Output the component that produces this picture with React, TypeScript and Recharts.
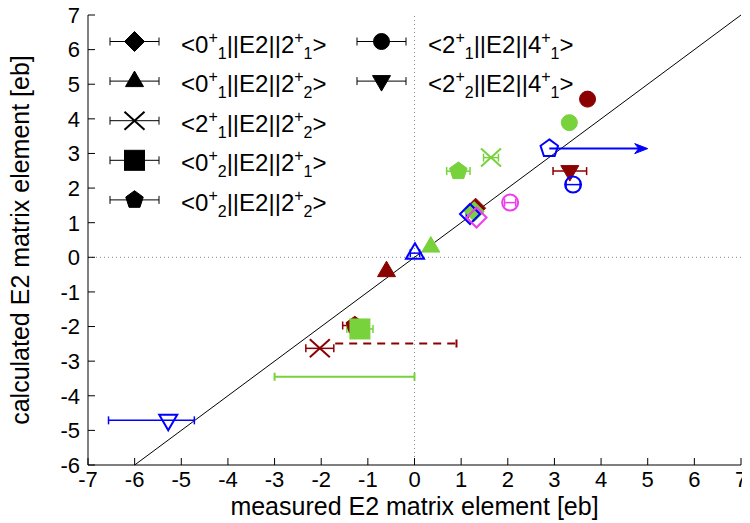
import React from 'react'
import {
  ScatterChart, Scatter, XAxis, YAxis, ErrorBar, ReferenceLine, Legend,
} from 'recharts'

type Shape = 'diamond' | 'triangle' | 'cross' | 'square' | 'pentagon' | 'circle' | 'triangleDown'

interface Point {
  shape: Shape
  x: number
  y: number
  ex?: number | [number, number]
}

const FONT = '"Liberation Sans", Arial, Helvetica, sans-serif'

const X_TICKS = [-7, -6, -5, -4, -3, -2, -1, 0, 1, 2, 3, 4, 5, 6, 7]
const Y_TICKS = [-6, -5, -4, -3, -2, -1, 0, 1, 2, 3, 4, 5, 6, 7]

const DARK_RED = '#8b0000'
const GREEN = '#77d23c'
const BLUE = '#0000ff'
const MAGENTA = '#ee3cee'

// measured (x) vs calculated (y), one list per calculation
const darkRedPoints: Point[] = [
  { shape: 'pentagon', x: -1.28, y: -1.97, ex: 0.26 },
  { shape: 'diamond', x: 1.31, y: 1.42 },
  { shape: 'triangle', x: -0.6, y: -0.4 },
  { shape: 'cross', x: -2.03, y: -2.63, ex: 0.3 },
  { shape: 'circle', x: 3.71, y: 4.57 },
  { shape: 'triangleDown', x: 3.33, y: 2.49, ex: 0.36 },
]

const greenPoints: Point[] = [
  { shape: 'diamond', x: 1.28, y: 1.32 },
  { shape: 'triangle', x: 0.35, y: 0.31 },
  { shape: 'cross', x: 1.64, y: 2.88, ex: 0.16 },
  { shape: 'square', x: -1.17, y: -2.07, ex: 0.28 },
  { shape: 'pentagon', x: 0.94, y: 2.49, ex: 0.25 },
  { shape: 'circle', x: 3.32, y: 3.89 },
]

const bluePoints: Point[] = [
  { shape: 'diamond', x: 1.19, y: 1.25, ex: 0.08 },
  { shape: 'triangle', x: 0.01, y: 0.12, ex: 0.1 },
  { shape: 'pentagon', x: 2.89, y: 3.14 },
  { shape: 'circle', x: 3.4, y: 2.1, ex: 0.15 },
  { shape: 'triangleDown', x: -5.28, y: -4.71, ex: [1.28, 0.56] },
]

const magentaPoints: Point[] = [
  { shape: 'diamond', x: 1.33, y: 1.15 },
  { shape: 'circle', x: 2.05, y: 1.58, ex: 0.12 },
]

// lower limit on the blue pentagon, and two bare ranges
const blueLimit = [{ x: 2.89, y: 3.14 }, { x: 5.0, y: 3.14 }]
const darkRedRange = [{ x: -1.7, y: -2.49 }, { x: 0.9, y: -2.49 }]
const greenRange = [{ x: -3.0, y: -3.45 }, { x: 0.0, y: -3.45 }]
const diagonal = [{ x: -6, y: -6 }, { x: 7, y: 7 }]

const legendItems: { shape: Shape; from: [string, string]; to: [string, string] }[] = [
  { shape: 'diamond', from: ['0', '1'], to: ['2', '1'] },
  { shape: 'triangle', from: ['0', '1'], to: ['2', '2'] },
  { shape: 'cross', from: ['2', '1'], to: ['2', '2'] },
  { shape: 'square', from: ['0', '2'], to: ['2', '1'] },
  { shape: 'pentagon', from: ['0', '2'], to: ['2', '2'] },
  { shape: 'circle', from: ['2', '1'], to: ['4', '1'] },
  { shape: 'triangleDown', from: ['2', '2'], to: ['4', '1'] },
]

function Marker({ shape, cx, cy, color, open }: {
  shape: Shape; cx: number; cy: number; color: string; open?: boolean
}) {
  const fill = open ? 'none' : color
  const sw = open ? 2 : 1
  const common = { fill, stroke: color, strokeWidth: sw, strokeLinejoin: 'miter' as const }
  switch (shape) {
    case 'circle':
      return <circle cx={cx} cy={cy} r={8} {...common} />
    case 'square':
      return <rect x={cx - 10} y={cy - 10} width={20} height={20} {...common} />
    case 'diamond':
      return <polygon points={`${cx},${cy - 10} ${cx + 10},${cy} ${cx},${cy + 10} ${cx - 10},${cy}`} {...common} />
    case 'triangle':
      return <polygon points={`${cx},${cy - 10} ${cx + 9},${cy + 5.5} ${cx - 9},${cy + 5.5}`} {...common} />
    case 'triangleDown':
      return <polygon points={`${cx},${cy + 10} ${cx + 9},${cy - 5.5} ${cx - 9},${cy - 5.5}`} {...common} />
    case 'pentagon': {
      const pts = [0, 1, 2, 3, 4].map(i => {
        const a = -Math.PI / 2 + (i * 2 * Math.PI) / 5
        return `${cx + 9.2 * Math.cos(a)},${cy + 9.2 * Math.sin(a)}`
      })
      return <polygon points={pts.join(' ')} {...common} />
    }
    case 'cross':
      return (
        <g stroke={color} strokeWidth={2}>
          <line x1={cx - 10} y1={cy - 9} x2={cx + 10} y2={cy + 9} />
          <line x1={cx - 10} y1={cy + 9} x2={cx + 10} y2={cy - 9} />
        </g>
      )
  }
  return null
}

const markerShape = (color: string, open?: boolean) => (p: any) =>
  <Marker shape={p.payload.shape} cx={p.cx} cy={p.cy} color={color} open={open} />

function StateLabel({ x, y, from, to }: { x: number; y: number; from: [string, string]; to: [string, string] }) {
  return (
    <text x={x} y={y} fontSize={24} fontFamily={FONT} fill="#000">
      {'<' + from[0]}
      <tspan dy={-10} fontSize={16}>+</tspan>
      <tspan dy={16} fontSize={16}>{from[1]}</tspan>
      <tspan dy={-6}>{'||E2||' + to[0]}</tspan>
      <tspan dy={-10} fontSize={16}>+</tspan>
      <tspan dy={16} fontSize={16}>{to[1]}</tspan>
      <tspan dy={-6}>{'>'}</tspan>
    </text>
  )
}

function LegendBox() {
  return (
    <svg width={620} height={230} style={{ display: 'block' }}>
      {legendItems.map((item, i) => {
        const col = i < 5 ? 0 : 1
        const row = col === 0 ? i : i - 5
        const left = col === 0 ? 102 : 349
        const cy = 33.5 + row * 39.6
        return (
          <g key={i}>
            <g stroke="#000" strokeWidth={1}>
              <line x1={left} y1={cy} x2={left + 49} y2={cy} />
              <line x1={left} y1={cy - 4} x2={left} y2={cy + 4} />
              <line x1={left + 49} y1={cy - 4} x2={left + 49} y2={cy + 4} />
            </g>
            <Marker shape={item.shape} cx={left + 24.5} cy={cy} color="#000" />
            <StateLabel x={left + 71} y={cy + 11} from={item.from} to={item.to} />
          </g>
        )
      })}
    </svg>
  )
}

const ArrowLine = (color: string) => (p: any) => {
  const { x1, y1, x2, y2 } = p
  return (
    <g>
      <line x1={x1} y1={y1} x2={x2 - 6} y2={y2} stroke={color} strokeWidth={2} />
      <polygon points={`${x2},${y2} ${x2 - 13},${y2 - 5} ${x2 - 9},${y2} ${x2 - 13},${y2 + 5}`} fill={color} stroke={color} strokeWidth={1} />
    </g>
  )
}

const CappedLine = (color: string, dashed: boolean, capLeft: boolean) => (p: any) => {
  const { x1, y1, x2, y2 } = p
  return (
    <g stroke={color} strokeWidth={2}>
      <line x1={x1} y1={y1} x2={x2} y2={y2} strokeDasharray={dashed ? '8 6' : undefined} />
      {capLeft && <line x1={x1} y1={y1 - 4} x2={x1} y2={y1 + 4} />}
      <line x1={x2} y1={y2 - 4} x2={x2} y2={y2 + 4} />
    </g>
  )
}

const tickStyle = { fill: '#000', fontSize: 22, fontFamily: FONT }

export default function App() {
  const series: [Point[], string, boolean][] = [
    [darkRedPoints, DARK_RED, false],
    [greenPoints, GREEN, false],
    [bluePoints, BLUE, true],
    [magentaPoints, MAGENTA, true],
  ]
  return (
    <ScatterChart width={742} height={515} margin={{ top: 7, right: 9, bottom: 0, left: 0 }}>
      <XAxis
        xAxisId="b" dataKey="x" type="number" domain={[-7, 7]} ticks={X_TICKS} allowDataOverflow interval={0}
        height={58} tickSize={-7} tickMargin={13} tick={tickStyle}
        axisLine={{ stroke: '#000' }} tickLine={{ stroke: '#000' }}
        label={{ value: 'measured E2 matrix element [eb]', position: 'insideBottom', offset: 8, style: { fill: '#000', fontSize: 25, fontFamily: FONT } }}
      />
      <XAxis
        xAxisId="t" orientation="top" type="number" domain={[-7, 7]} ticks={X_TICKS} allowDataOverflow interval={0}
        height={0} tickSize={-7} tick={false}
        axisLine={{ stroke: '#000' }} tickLine={{ stroke: '#000' }}
      />
      <YAxis
        yAxisId="l" dataKey="y" type="number" domain={[-6, 7]} ticks={Y_TICKS} allowDataOverflow interval={0}
        width={80} tickSize={-7} tickMargin={15} tick={tickStyle}
        axisLine={{ stroke: '#000' }} tickLine={{ stroke: '#000' }}
        label={{ value: 'calculated E2 matrix element [eb]', angle: -90, position: 'insideLeft', offset: 12, style: { fill: '#000', fontSize: 25, fontFamily: FONT, textAnchor: 'middle' } }}
      />
      <YAxis
        yAxisId="r" orientation="right" type="number" domain={[-6, 7]} ticks={Y_TICKS} allowDataOverflow interval={0}
        width={0} tickSize={-7} tick={false}
        axisLine={{ stroke: '#000' }} tickLine={{ stroke: '#000' }}
      />

      <ReferenceLine xAxisId="b" yAxisId="l" x={0} stroke="#888" strokeDasharray="1 3" />
      <ReferenceLine xAxisId="b" yAxisId="l" y={0} stroke="#888" strokeDasharray="1 3" />
      <ReferenceLine xAxisId="b" yAxisId="l" segment={diagonal} stroke="#000" strokeWidth={1} />

      <Legend layout="vertical" align="center" verticalAlign="middle" wrapperStyle={{ top: 0, left: 0 }} content={() => <LegendBox />} />

      {series.map(([data, color, open]) => (
        <Scatter
          key={color} xAxisId="b" yAxisId="l" data={data} isAnimationActive={false}
          shape={markerShape(color, open)} fill={color}
        >
          <ErrorBar dataKey="ex" direction="x" width={4} stroke={color} strokeWidth={1.5} />
        </Scatter>
      ))}

      <ReferenceLine xAxisId="b" yAxisId="l" segment={darkRedRange} shape={CappedLine(DARK_RED, true, false)} />
      <ReferenceLine xAxisId="b" yAxisId="l" segment={greenRange} shape={CappedLine(GREEN, false, true)} />
      <ReferenceLine xAxisId="b" yAxisId="l" segment={blueLimit} shape={ArrowLine(BLUE)} />
    </ScatterChart>
  )
}
